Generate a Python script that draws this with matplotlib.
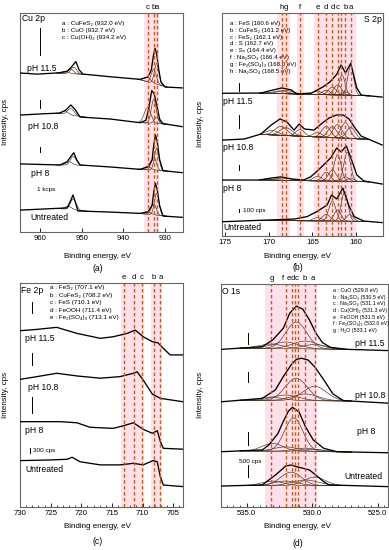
import numpy as np
import matplotlib
matplotlib.use('Agg')
import matplotlib.pyplot as plt
from matplotlib.ticker import MultipleLocator, FormatStrFormatter

plt.rcParams['font.family'] = ['Liberation Sans', 'DejaVu Sans']

# ---------------- Cu 2p ----------------
cu_lines = [932.0, 932.7, 934.2]
cu_tags = ['a', 'b', 'c']
cu_bands = [(935.0, 931.4)]
cu_legend = ['a : CuFeS₂ (932.0 eV)', 'b : CuO (932.7 eV)', 'c : Cu(OH)₂ (934.2 eV)']
cu_windows = [(936.5, 929.5), (956.0, 948.5)]

cu_e_115 = [964.8, 960.7, 955.2, 953.5, 952.4, 951.4, 950.6, 949.7, 943.2, 936.0, 934.1, 933.3, 932.8, 932.4, 932.0, 931.5, 931.0, 930.0, 925.9]
cu_i_115 = [72.6, 72.1, 72.7, 73.4, 75.5, 77.8, 74.0, 72.1, 70.9, 69.7, 70.8, 74.0, 80.5, 83.9, 81.0, 74.0, 68.5, 66.2, 65.8]
cu_e_108 = [964.8, 959.0, 955.2, 953.8, 952.6, 951.6, 950.4, 943.2, 936.0, 934.6, 933.9, 933.2, 932.6, 932.0, 931.3, 930.5, 925.9]
cu_i_108 = [53.4, 54.0, 54.3, 55.7, 58.0, 56.0, 52.5, 51.6, 49.9, 51.0, 56.5, 64.6, 63.0, 58.0, 51.5, 49.5, 48.1]
cu_e_8 = [964.8, 955.2, 953.5, 952.6, 951.9, 951.2, 950.4, 943.2, 936.0, 934.1, 933.1, 932.7, 932.3, 931.9, 931.3, 930.5, 925.9]
cu_i_8 = [31.1, 30.6, 32.1, 34.5, 36.2, 33.0, 30.6, 29.7, 28.6, 29.7, 33.0, 40.0, 44.3, 41.5, 33.0, 28.0, 27.1]
cu_e_un = [964.8, 953.5, 952.6, 952.1, 951.5, 950.9, 943.2, 936.0, 934.1, 933.1, 932.7, 932.3, 931.9, 931.3, 930.5, 925.9]
cu_i_un = [10.0, 11.0, 14.5, 16.9, 13.5, 9.6, 9.1, 8.5, 9.1, 12.3, 18.5, 22.2, 19.5, 12.0, 7.3, 6.7]

# fitted components: (centre eV, height, sigma)
cu_comp_115 = [(932.0, 9.5, 0.55), (932.7, 6.5, 0.6), (934.2, 2.0, 0.8), (951.9, 3.0, 0.7), (952.6, 2.0, 0.7), (954.0, 1.0, 0.8)]
cu_comp_108 = [(932.0, 3.0, 0.55), (932.7, 11.0, 0.6), (934.2, 7.0, 0.8), (952.6, 3.0, 0.8), (954.0, 1.5, 0.8)]
cu_comp_8 = [(932.0, 10.0, 0.55), (932.7, 6.0, 0.6), (934.2, 1.5, 0.8), (952.0, 4.0, 0.7), (953.0, 1.5, 0.8)]
cu_comp_un = [(932.0, 10.0, 0.55), (932.7, 5.0, 0.6), (934.2, 1.2, 0.8), (952.0, 5.0, 0.7), (953.2, 1.5, 0.8)]

# ---------------- S 2p ----------------
s_lines = [160.6, 161.2, 161.7, 162.1, 162.7, 163.4, 164.4, 166.4, 168.0, 168.5]
s_tags = ['a', 'b', '', 'c', 'd', 'd', 'e', 'f', 'g', 'h']
s_bands = [(169.0, 167.6), (166.8, 166.0), (164.8, 160.0)]
s_legend = ['a : FeS (160.6 eV)', 'b : CuFeS₂ (161.2 eV)', 'c : FeS₂ (162.1 eV)', 'd : S (162.7 eV)',
            'e : Sₙ (164.4 eV)', 'f : Na₂SO₃ (166.4 eV)', 'g : Fe₂(SO₄)₃ (168.0 eV)',
            'h : Na₂SO₄ (168.5 eV)']
s_windows = [(171.0, 158.5)]

s_e_115 = [175.3, 170.9, 170.0, 168.5, 167.4, 166.8, 165.1, 163.8, 163.0, 162.2, 161.7, 161.2, 160.6, 159.9, 159.4, 157.0]
s_i_115 = [64.0, 64.1, 65.0, 66.4, 65.5, 63.7, 64.1, 66.8, 69.0, 72.5, 76.7, 73.1, 77.4, 66.4, 63.2, 62.3]
s_e_108 = [175.3, 172.8, 170.9, 169.7, 168.7, 167.9, 167.1, 166.5, 165.9, 164.8, 164.0, 163.1, 162.2, 161.5, 160.8, 160.1, 159.4, 158.3, 157.0]
s_i_108 = [43.0, 43.5, 45.7, 49.8, 52.5, 51.1, 47.5, 50.2, 48.0, 47.5, 50.2, 52.9, 54.3, 54.3, 52.5, 48.4, 44.8, 43.0, 40.8]
s_e_8 = [175.3, 171.1, 169.7, 168.6, 167.4, 166.0, 165.2, 164.3, 163.5, 162.9, 162.2, 161.7, 161.1, 160.5, 159.9, 159.1, 157.0]
s_i_8 = [25.1, 25.1, 26.0, 26.5, 25.6, 25.1, 26.5, 29.6, 32.7, 35.0, 39.5, 37.7, 40.4, 34.1, 27.4, 24.7, 23.3]
s_e_un = [175.3, 167.1, 165.6, 164.5, 163.3, 162.8, 162.2, 161.5, 160.8, 160.2, 159.1, 157.0]
s_i_un = [6.4, 7.6, 8.7, 10.9, 13.9, 18.4, 16.6, 21.5, 13.5, 8.7, 6.7, 6.0]

s_comp_115 = [(168.0, 1.5, 0.8), (168.6, 1.2, 0.8), (164.4, 1.5, 0.5), (163.4, 2.0, 0.45), (162.7, 3.5, 0.45),
              (162.1, 4.5, 0.45), (161.6, 9.0, 0.35), (161.2, 1.5, 0.35), (160.6, 13.0, 0.35)]
s_comp_108 = [(169.6, 2.0, 0.7), (168.6, 4.0, 0.7), (168.0, 3.5, 0.7), (166.4, 3.0, 0.5), (164.4, 2.0, 0.5),
              (163.4, 5.0, 0.5), (162.7, 5.0, 0.5), (162.1, 6.0, 0.5), (161.2, 7.0, 0.5), (160.6, 5.0, 0.5)]
s_comp_8 = [(168.3, 1.0, 0.9), (164.4, 2.0, 0.5), (163.4, 4.0, 0.45), (162.7, 5.0, 0.45), (162.1, 12.0, 0.4),
            (161.2, 2.0, 0.4), (161.0, 13.0, 0.38), (160.6, 1.5, 0.4)]
s_comp_un = [(164.4, 1.5, 0.5), (163.4, 3.0, 0.45), (162.7, 9.0, 0.4), (162.1, 5.0, 0.4), (161.3, 13.0, 0.38),
             (160.7, 3.0, 0.4)]

# ---------------- Fe 2p ----------------
fe_lines = [707.1, 708.2, 710.1, 711.4, 713.1]
fe_tags = ['a', 'b', 'c', 'd', 'e']
fe_bands = [(713.5, 709.8), (708.6, 706.9)]
fe_legend = ['a : FeS₂ (707.1 eV)', 'b : CuFeS₂ (708.2 eV)', 'c : FeS (710.1 eV)',
             'd : FeOOH (711.4 eV)', 'e : Fe₂(SO₄)₃ (713.1 eV)']

fe_e_115 = [730.0, 727.2, 724.0, 720.7, 716.9, 714.8, 712.5, 711.2, 709.9, 708.4, 707.5, 706.6, 705.5, 703.4]
fe_i_115 = [78.7, 79.3, 80.2, 77.5, 75.3, 76.0, 77.5, 79.0, 76.0, 73.8, 73.3, 70.8, 67.9, 67.9]
fe_e_108 = [730.0, 727.9, 724.0, 720.7, 716.9, 713.7, 711.5, 710.9, 709.9, 708.4, 707.1, 703.4]
fe_i_108 = [57.0, 57.9, 59.7, 58.5, 57.5, 58.2, 59.7, 60.4, 56.7, 50.4, 48.5, 47.0]
fe_e_8 = [730.0, 723.5, 720.7, 718.6, 714.8, 713.2, 711.5, 709.9, 708.4, 707.6, 707.1, 706.6, 703.4]
fe_i_8 = [38.1, 38.1, 37.6, 35.6, 35.1, 36.2, 37.6, 34.7, 32.9, 34.1, 29.2, 26.2, 25.8]
fe_e_un = [730.0, 725.1, 722.3, 721.5, 720.2, 716.9, 713.7, 711.5, 709.9, 708.3, 707.6, 707.1, 706.6, 703.4]
fe_i_un = [20.7, 21.0, 21.3, 22.2, 20.2, 18.8, 18.8, 19.5, 18.8, 20.7, 20.2, 13.5, 9.8, 9.1]

# ---------------- O 1s ----------------
o_lines = [529.8, 530.5, 531.1, 531.3, 531.5, 532.0, 533.1]
o_tags = ['a', 'b', 'c', 'd', 'e', 'f', 'g']
o_tag_pos = [529.95, 530.6, 531.2, 531.5, 531.8, 532.2, 533.1]
o_bands = [(533.6, 529.6)]
o_legend = ['a : CuO (529.8 eV)', 'b : Na₂SO₃ (530.5 eV)', 'c : Na₂SO₄ (531.1 eV)',
            'd : Cu(OH)₂ (531.3 eV)', 'e : FeOOH (531.5 eV)', 'f : Fe₂(SO₄)₃ (532.0 eV)',
            'g : H₂O (533.1 eV)']
o_windows = [(535.5, 527.0)]

o_e_115 = [536.9, 533.8, 533.0, 532.2, 531.7, 531.2, 530.7, 530.2, 529.7, 529.2, 528.6, 527.3, 524.0]
o_i_115 = [70.7, 71.9, 74.9, 80.1, 86.9, 90.1, 88.7, 83.9, 77.9, 73.7, 71.6, 70.7, 70.1]
o_e_108 = [536.9, 533.8, 532.8, 532.2, 531.6, 531.2, 530.8, 530.3, 529.8, 529.1, 528.4, 527.6, 524.0]
o_i_108 = [47.2, 48.7, 52.5, 58.4, 63.7, 66.2, 66.7, 65.9, 62.9, 57.0, 50.7, 47.7, 46.5]
o_e_8 = [536.9, 533.8, 533.3, 532.6, 532.2, 531.8, 531.5, 531.0, 530.5, 529.9, 529.1, 528.1, 524.0]
o_i_8 = [24.8, 25.6, 27.8, 33.0, 38.3, 43.0, 44.7, 42.7, 36.0, 30.0, 26.3, 24.8, 24.3]
o_e_un = [536.9, 533.8, 532.8, 532.0, 531.6, 531.2, 530.7, 530.2, 529.7, 529.1, 528.7, 524.0]
o_i_un = [9.4, 9.9, 14.3, 18.4, 18.8, 18.1, 17.4, 16.6, 14.3, 11.3, 9.9, 9.1]

o_comp_115 = [(531.2, 12.0, 0.8), (530.5, 3.5, 1.0), (532.0, 3.0, 1.0), (533.1, 2.0, 0.9), (529.8, 2.0, 0.9)]
o_comp_108 = [(531.2, 10.0, 0.85), (529.8, 6.5, 0.9), (530.5, 3.0, 1.0), (532.0, 2.5, 1.0), (533.1, 1.5, 0.9)]
o_comp_8 = [(531.4, 15.0, 0.7), (533.0, 3.5, 0.8), (532.0, 2.0, 0.9), (530.5, 1.5, 0.9), (529.8, 1.0, 0.9)]
o_comp_un = [(531.6, 6.0, 0.8), (529.8, 3.8, 0.8), (530.5, 2.5, 1.0), (533.0, 2.0, 0.8), (532.0, 2.0, 0.9)]

DASH = '#c0601a'
PINK = '#fde0ea'
COMP = '#4a2e22'


def gauss(x, c, h, s):
    return h * np.exp(-(x - c) ** 2 / (2 * s * s))


def spectrum(ax, e, i, comps=None, windows=None):
    ea = np.array(e)[::-1]
    ia = np.array(i)[::-1]
    if comps:
        for c, h, s in comps:
            for hi, lo in windows:
                if lo <= c <= hi:
                    x = np.linspace(lo, hi, 300)
                    b_lo = np.interp(lo, ea, ia)
                    b_hi = np.interp(hi, ea, ia)
                    base = b_lo + (b_hi - b_lo) * (x - lo) / (hi - lo)
                    ax.plot(x, base + gauss(x, c, h, s), color=COMP, lw=0.45, zorder=2)
    ax.plot(e, i, color='black', lw=0.95, zorder=3)


def frame(ax, xlim, major, minor=None, fmt=None):
    ax.set_xlim(*xlim)
    ax.set_ylim(0, 100)
    ax.set_yticks([])
    ax.xaxis.set_major_locator(MultipleLocator(major))
    if minor:
        ax.xaxis.set_minor_locator(MultipleLocator(minor))
    if fmt:
        ax.xaxis.set_major_formatter(FormatStrFormatter(fmt))
    ax.tick_params(axis='x', which='major', direction='in', length=3, width=0.6, labelsize=5.6, pad=2)
    ax.tick_params(axis='x', which='minor', direction='in', length=1.8, width=0.5)
    for sp in ax.spines.values():
        sp.set_color('#666666')
        sp.set_linewidth(0.8)


def refs(ax, lines, tags, bands, tag_pos=None):
    for hi, lo in bands:
        ax.axvspan(lo, hi, color=PINK, lw=0, zorder=0)
    for x in lines:
        ax.axvline(x, color=DASH, lw=1.0, dashes=(2.5, 1.8), zorder=4)
    pos = tag_pos if tag_pos else lines
    for x, t in zip(pos, tags):
        ax.text(x, 1.008, t, transform=ax.get_xaxis_transform(), ha='center', va='bottom', fontsize=5.6)


def bar(ax, x, y0, y1):
    ax.plot([x, x], [y0, y1], color='black', lw=0.7, zorder=3)


fig = plt.figure(figsize=(3.89, 5.50), dpi=100)
W, H = 389.0, 550.0


def axes_px(l, t, r, b):
    return fig.add_axes([l / W, 1 - b / H, (r - l) / W, (b - t) / H])


# ---------- (a) Cu 2p ----------
ax = axes_px(20, 13, 183, 232)
frame(ax, (964.8, 925.7), 10)
refs(ax, cu_lines, cu_tags, cu_bands)
spectrum(ax, cu_e_115, cu_i_115, cu_comp_115, cu_windows)
spectrum(ax, cu_e_108, cu_i_108, cu_comp_108, cu_windows)
spectrum(ax, cu_e_8, cu_i_8, cu_comp_8, cu_windows)
spectrum(ax, cu_e_un, cu_i_un, cu_comp_un, cu_windows)
ax.text(0.015, 0.975, 'Cu 2p', transform=ax.transAxes, fontsize=6.2, va='center')
for k, s in enumerate(cu_legend):
    ax.text(954.7, 95.4 - 3.2 * k, s, fontsize=4.6, va='center')
ax.text(963.1, 74.8, 'pH 11.5', fontsize=6.2, va='center')
ax.text(962.9, 48.4, 'pH 10.8', fontsize=6.2, va='center')
ax.text(962.2, 26.8, 'pH 8', fontsize=6.2, va='center')
ax.text(962.4, 6.4, 'Untreated', fontsize=6.2, va='center')
ax.text(960.7, 19.2, '1 kcps', fontsize=4.6, va='center')
bar(ax, 960.0, 80.8, 93.2)
bar(ax, 960.0, 56.6, 60.3)
bar(ax, 960.0, 36.7, 39.0)

# ---------- (b) S 2p ----------
ax = axes_px(222, 13, 383, 236)
frame(ax, (175.35, 156.9), 5)
refs(ax, s_lines, s_tags, s_bands)
spectrum(ax, s_e_115, s_i_115, s_comp_115, s_windows)
spectrum(ax, s_e_108, s_i_108, s_comp_108, s_windows)
spectrum(ax, s_e_8, s_i_8, s_comp_8, s_windows)
spectrum(ax, s_e_un, s_i_un, s_comp_un, s_windows)
ax.text(0.99, 0.969, 'S 2p', transform=ax.transAxes, fontsize=6.2, va='center', ha='right')
for k, s in enumerate(s_legend):
    ax.text(174.4, 95.4 - 3.1 * k, s, fontsize=4.4, va='center')
ax.text(175.2, 60.2, 'pH 11.5', fontsize=6.2, va='center')
ax.text(175.2, 39.5, 'pH 10.8', fontsize=6.2, va='center')
ax.text(175.2, 21.1, 'pH 8', fontsize=6.2, va='center')
ax.text(175.2, 3.9, 'Untreated', fontsize=6.2, va='center')
ax.text(173.0, 11.3, '100 cps', fontsize=4.6, va='center')
bar(ax, 173.4, 65.0, 68.6)
bar(ax, 173.4, 48.4, 54.3)
bar(ax, 173.4, 29.6, 31.8)
bar(ax, 173.4, 10.6, 12.0)

# ---------- (c) Fe 2p ----------
ax = axes_px(20, 283, 183, 507)
frame(ax, (730.0, 703.4), 5, 1)
refs(ax, fe_lines, fe_tags, fe_bands)
spectrum(ax, fe_e_115, fe_i_115)
spectrum(ax, fe_e_108, fe_i_108)
spectrum(ax, fe_e_8, fe_i_8)
spectrum(ax, fe_e_un, fe_i_un)
ax.text(0.006, 0.966, 'Fe 2p', transform=ax.transAxes, fontsize=6.2, va='center')
for k, s in enumerate(fe_legend):
    ax.text(725.1, 97.8 - 3.35 * k, s, fontsize=4.6, va='center')
ax.text(729.2, 75.3, 'pH 11.5', fontsize=6.2, va='center')
ax.text(728.7, 53.4, 'pH 10.8', fontsize=6.2, va='center')
ax.text(729.2, 34.1, 'pH 8', fontsize=6.2, va='center')
ax.text(729.2, 16.8, 'Untreated', fontsize=6.2, va='center')
ax.text(727.9, 25.1, '300 cps', fontsize=4.6, va='center')
bar(ax, 728.0, 86.5, 91.7)
bar(ax, 728.0, 63.4, 68.6)
bar(ax, 728.0, 42.0, 49.2)
bar(ax, 728.3, 24.0, 26.2)

# ---------- (d) O 1s ----------
ax = axes_px(221, 284, 388, 507)
frame(ax, (536.95, 524.2), 5, 0.5, '%.1f')
refs(ax, o_lines, o_tags, o_bands, o_tag_pos)
spectrum(ax, o_e_115, o_i_115, o_comp_115, o_windows)
spectrum(ax, o_e_108, o_i_108, o_comp_108, o_windows)
spectrum(ax, o_e_8, o_i_8, o_comp_8, o_windows)
spectrum(ax, o_e_un, o_i_un, o_comp_un, o_windows)
ax.text(0.006, 0.965, 'O 1s', transform=ax.transAxes, fontsize=6.2, va='center')
for k, s in enumerate(o_legend):
    ax.text(528.4, 97.0 - 2.95 * k, s, fontsize=3.8, va='center')
ax.text(526.7, 73.1, 'pH 11.5', fontsize=6.2, va='center')
ax.text(526.7, 49.8, 'pH 10.8', fontsize=6.2, va='center')
ax.text(526.6, 33.8, 'pH 8', fontsize=6.2, va='center')
ax.text(527.5, 13.6, 'Untreated', fontsize=6.2, va='center')
ax.text(535.6, 20.3, '500 cps', fontsize=4.6, va='center')
bar(ax, 534.9, 73.1, 77.9)
bar(ax, 534.9, 56.2, 60.7)
bar(ax, 534.9, 27.8, 33.8)
bar(ax, 534.9, 13.6, 18.8)

# shared labels
for xc, yl, yp, tag in [(98, 256, 269, '(a)'), (298, 256, 267, '(b)'),
                        (98, 526, 542, '(c)'), (298, 526, 543, '(d)')]:
    fig.text(xc / W, 1 - yl / H, 'Binding energy, eV', ha='center', va='center', fontsize=5.8)
    fig.text(xc / W, 1 - yp / H, tag, ha='center', va='center', fontsize=6.2)
for xc, yc in [(6, 122), (200, 124), (6, 395), (200, 395)]:
    fig.text(xc / W, 1 - yc / H, 'Intensity, cps', rotation=90, ha='center', va='center', fontsize=5.8)

fig.savefig('out.png', dpi=100)
